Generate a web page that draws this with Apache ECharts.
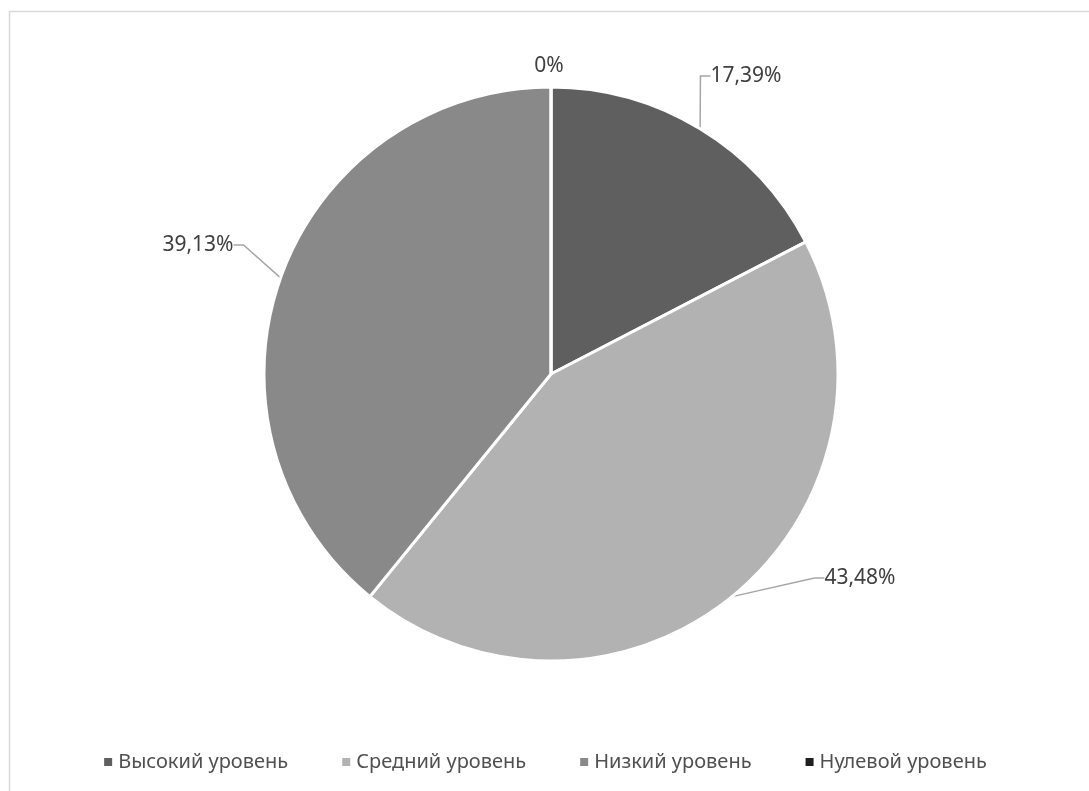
<!DOCTYPE html>
<html>
<head>
<meta charset="utf-8">
<script src="https://cdn.jsdelivr.net/npm/echarts@6/dist/echarts.min.js"></script>
<style>
  html, body { margin: 0; padding: 0; background: #fff; }
  #chart { width: 1089px; height: 791px; }
</style>
</head>
<body>
<div id="chart"></div>
<script>
// Распределение по уровням (в процентах)
const categories = ['Высокий уровень', 'Средний уровень', 'Низкий уровень', 'Нулевой уровень'];
const values = [17.39, 43.48, 39.13, 0];
const colors = ['#5f5f5f', '#b2b2b2', '#898989', '#1e1e1e'];
// Positions of the value labels around the pie
const labelSpots = [[746, 76], [860, 578], [198, 245], [549, 66]];

const fmt = v => (v === 0 ? '0' : v.toFixed(2).replace('.', ',')) + '%';

const chart = echarts.init(document.getElementById('chart'));
chart.setOption({
  animation: false,
  backgroundColor: '#ffffff',
  color: colors,
  graphic: [{
    type: 'rect',
    shape: { x: 9.5, y: 11.5, width: 1200, height: 900 },
    style: { fill: 'none', stroke: '#d9d9d9', lineWidth: 1.5 },
    silent: true
  }],
  legend: {
    bottom: 14,
    left: 'center',
    itemWidth: 10,
    itemHeight: 10,
    itemGap: 52,
    icon: 'rect',
    textStyle: { fontFamily: 'Noto Sans', fontSize: 20, color: '#505050' },
    data: categories
  },
  series: [{
    type: 'pie',
    center: [551, 374],
    radius: 287,
    startAngle: 90,
    clockwise: true,
    minAngle: 0,
    stillShowZeroSum: true,
    itemStyle: { borderColor: '#ffffff', borderWidth: 3 },
    label: {
      show: true,
      formatter: p => fmt(p.value),
      fontFamily: 'Noto Sans',
      fontSize: 21,
      color: '#404040'
    },
    labelLine: {
      show: true,
      length: 15,
      length2: 10,
      lineStyle: { color: '#a6a6a6', width: 1.5 }
    },
    labelLayout: p => {
      const s = labelSpots[p.dataIndex];
      return { x: s[0], y: s[1], align: 'center', verticalAlign: 'middle' };
    },
    data: categories.map((name, i) => ({
      name,
      value: values[i],
      labelLine: { show: values[i] !== 0 }
    }))
  }]
});
</script>
</body>
</html>
